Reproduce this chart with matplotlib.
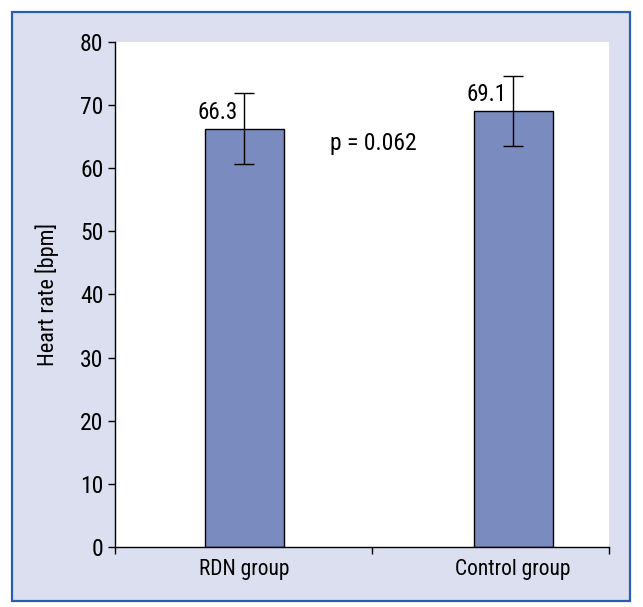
import matplotlib.pyplot as plt
from matplotlib.patches import Rectangle

# data
groups = ['RDN group', 'Control group']
heart_rate = [66.3, 69.1]
heart_rate_sd = [5.6, 5.6]
value_labels = ['66.3', '69.1']
p_text = 'p = 0.062'
y_ticks = [0, 10, 20, 30, 40, 50, 60, 70, 80]

plt.rcParams['font.family'] = ['Roboto Condensed', 'Liberation Sans', 'DejaVu Sans']

bg = '#dcdfef'
bar_color = '#7a8bbf'
frame_color = '#2a5fae'

fig = plt.figure(figsize=(6.43, 6.07), dpi=100)
fig.patch.set_facecolor('white')

# lavender panel with blue frame (behind the axes)
fig.patches.append(Rectangle((0.0187, 0.0099), 0.961, 0.970, transform=fig.transFigure,
                             facecolor=bg, edgecolor=frame_color, linewidth=1.6, zorder=-1))

ax = fig.add_axes([0.1784, 0.0994, 0.7683, 0.8309])
ax.set_facecolor('white')

x_pos = [0.525, 1.613]
ax.bar(x_pos, heart_rate, width=0.32, color=bar_color, edgecolor='black',
       linewidth=1.0, zorder=2)
ax.errorbar(x_pos, heart_rate, yerr=heart_rate_sd, fmt='none', ecolor='black',
            elinewidth=1.0, capsize=7, capthick=1.0, zorder=3)

for xp, val, lab in zip(x_pos, heart_rate, value_labels):
    ax.text(xp - 0.028, val + 0.8, lab, ha='right', va='bottom', fontsize=16.5)

ax.text(1.047, 64.0, p_text, ha='center', va='center', fontsize=17)

ax.set_xlim(0, 2)
ax.set_ylim(0, 80)
ax.set_yticks(y_ticks)
ax.tick_params(axis='y', direction='out', length=5, width=1, labelsize=17, pad=3)

ax.set_xticks([0, 1.042, 2])
ax.set_xticklabels([])
ax.tick_params(axis='x', which='major', direction='out', length=5, width=1)
ax.set_xticks(x_pos, minor=True)
ax.set_xticklabels(groups, minor=True, fontsize=15.5)
ax.tick_params(axis='x', which='minor', length=0, pad=9)

ax.set_ylabel('Heart rate [bpm]', fontsize=16, labelpad=15)

for side in ['top', 'right']:
    ax.spines[side].set_visible(False)
for side in ['left', 'bottom']:
    ax.spines[side].set_linewidth(1.0)

fig.savefig('out.png', dpi=100)
